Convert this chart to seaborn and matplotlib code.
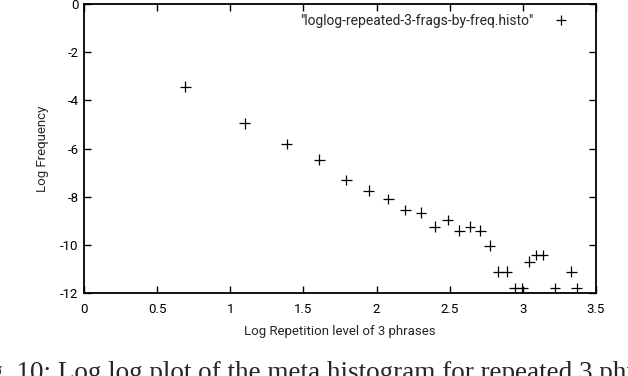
import pandas as pd
import matplotlib
matplotlib.use("Agg")
import matplotlib.pyplot as plt
import seaborn as sns

# valeurs (log niveau de répétition, log fréquence)
log_repetition = [0.693, 1.099, 1.386, 1.609, 1.792, 1.946, 2.079, 2.197, 2.303,
                  2.398, 2.485, 2.565, 2.639, 2.708, 2.773, 2.833, 2.890, 2.944,
                  2.996, 3.045, 3.091, 3.135, 3.219, 3.332, 3.367]
log_frequency = [-3.43, -4.95, -5.81, -6.46, -7.31, -7.75, -8.10, -8.55, -8.67,
                 -9.25, -8.97, -9.41, -9.25, -9.41, -10.03, -11.12, -11.12, -11.81,
                 -11.81, -10.70, -10.42, -10.42, -11.81, -11.12, -11.81]
series_label = '"loglog-repeated-3-frags-by-freq.histo"'

x_ticks = [0, 0.5, 1, 1.5, 2, 2.5, 3, 3.5]
y_ticks = [0, -2, -4, -6, -8, -10, -12]

df = pd.DataFrame({"x": log_repetition, "y": log_frequency, "serie": series_label})

sns.set_style("ticks")
plt.rcParams["font.family"] = ["Roboto", "DejaVu Sans"]

fig = plt.figure(figsize=(6.28, 3.76), dpi=100)
ax = fig.add_axes([84 / 628, 1 - 293 / 376, 512 / 628, 289 / 376])

sns.scatterplot(
    data=df, x="x", y="y", hue="serie", palette=["black"],
    marker="+", s=60, linewidth=0.9, ax=ax,
)

ax.set_xlim(0, 3.5)
ax.set_ylim(-12, 0)
ax.set_xticks(x_ticks)
ax.set_xticklabels([f"{t:g}" for t in x_ticks])
ax.set_yticks(y_ticks)
ax.set_yticklabels([f"{t:g}" for t in y_ticks])
ax.tick_params(direction="in", length=5, width=1, top=True, right=True,
               labelsize=9.5, colors="black")
ax.tick_params(axis="x", pad=7)
ax.tick_params(axis="y", pad=4)

for side in ["top", "bottom", "left", "right"]:
    ax.spines[side].set_visible(True)
    ax.spines[side].set_linewidth(1.3)
    ax.spines[side].set_color("black")

# Labels des axes
ax.set_xlabel("Log Repetition level of 3 phrases", fontsize=9.5, labelpad=7)
ax.set_ylabel("Log Frequency", fontsize=9.5, labelpad=8)

leg = ax.legend(loc="upper right", frameon=False, markerfirst=False,
                fontsize=10, handletextpad=1.0, borderaxespad=0.3,
                bbox_to_anchor=(0.978, 1.0))

# Légende de la figure (coupée comme dans l'original)
fig.text(-0.052, 1 - 361 / 376, "Fig. 10: Log log plot of the meta histogram for repeated 3 phrases",
         family=["Liberation Serif"], fontsize=19.5, va="top", ha="left")

fig.savefig("out.png", dpi=100)
